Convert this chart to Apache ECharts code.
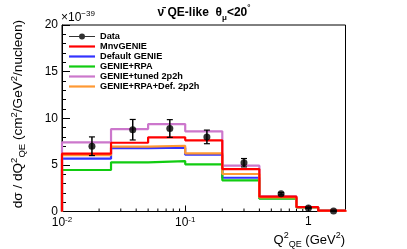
<!DOCTYPE html>
<html>
<head>
<meta charset="utf-8">
<script src="https://cdn.jsdelivr.net/npm/echarts@6/dist/echarts.min.js"></script>
<style>html,body{margin:0;padding:0;background:#fff}#c{width:407px;height:249px}</style>
</head>
<body>
<div id="c"></div>
<script>
// ---- data ----
var binEdges = [0.01, 0.025, 0.05, 0.1, 0.2, 0.4, 0.8, 1.2, 2.0];
var dataX = [0.0175, 0.0375, 0.075, 0.15, 0.3, 0.6, 1.0, 1.6];
var dataY = [7.0, 8.77, 8.9, 8.0, 5.23, 1.91, 0.37, 0.05];
var dataErr = [1.0, 1.1, 0.95, 0.73, 0.45, 0.12, 0.05, 0.02];
var mnvGenie = [6.2, 7.37, 7.95, 7.63, 4.55, 1.59, 0.48, 0.09];
var defaultGenie = [5.66, 6.8, 6.84, 6.09, 3.62, 1.42, 0.42, 0.07];
var genieRpa = [4.45, 5.27, 5.41, 5.06, 3.34, 1.37, 0.42, 0.07];
var tuned2p2h = [7.42, 8.84, 9.38, 8.6, 4.91, 1.62, 0.45, 0.08];
var rpaDef2p2h = [6.05, 6.95, 7.05, 6.24, 4.02, 1.5, 0.44, 0.08];
var yTicks = [0, 5, 10, 15, 20];
var xMinorTicks = [0.02,0.03,0.04,0.05,0.06,0.07,0.08,0.09,0.2,0.3,0.4,0.5,0.6,0.7,0.8,0.9];

function hist(vals){
  var pts = [[binEdges[0], 0]];
  for (var i = 0; i < vals.length; i++) pts.push([binEdges[i], vals[i]]);
  pts.push([binEdges[binEdges.length-1], vals[vals.length-1]]);
  pts.push([binEdges[binEdges.length-1], 0]);
  return pts;
}
function stepSeries(name, vals, color){
  return {name: name, type: 'line', step: 'end', data: hist(vals), symbol: 'none',
    lineStyle: {color: color, width: 2.2}, itemStyle: {color: color}, z: 3, animation: false};
}
var F = 'Liberation Sans';
var LINE_ICON = 'path://M0,0H26V2.2H0Z';
var chart = echarts.init(document.getElementById('c'), null, {renderer: 'canvas'});
chart.setOption({
  animation: false,
  grid: {left: 62, top: 25, right: 61.5, bottom: 37.5, show: true, borderColor: '#000', borderWidth: 1, backgroundColor: 'transparent'},
  legend: {
    orient: 'vertical', left: 64, top: 27, itemWidth: 26, itemHeight: 9, itemGap: 1, itemTextGap: 6,
    textStyle: {fontFamily: F, fontWeight: 'bold', fontSize: 9.2, color: '#000'},
    data: [
      {name: 'Data', icon: 'path://M0,4.6H26V5.4H0Z M16,5A3,3 0 1,1 10,5A3,3 0 1,1 16,5Z'},
      {name: 'MnvGENIE', icon: LINE_ICON},
      {name: 'Default GENIE', icon: LINE_ICON},
      {name: 'GENIE+RPA', icon: LINE_ICON},
      {name: 'GENIE+tuned 2p2h', icon: LINE_ICON},
      {name: 'GENIE+RPA+Def. 2p2h', icon: LINE_ICON}
    ]
  },
  xAxis: {
    type: 'log', logBase: 10, min: 0.01, max: 2,
    axisLine: {lineStyle: {color: '#000', width: 1}},
    axisTick: {inside: true, length: 6, lineStyle: {color: '#000'}},
    splitLine: {show: false},
    axisLabel: {
      fontFamily: F, fontSize: 12, color: '#000', margin: 4, showMaxLabel: false,
      formatter: function(v){
        var l = Math.log10(v), p = Math.round(l);
        if (Math.abs(l - p) > 1e-6) return '';
        if (p === 0) return '1';
        return '10{sup|' + p + '}';
      },
      rich: {sup: {fontFamily: F, fontSize: 8, verticalAlign: 'top', lineHeight: 14, color: '#000'}}
    }
  },
  yAxis: {
    type: 'value', min: 0, max: 20, interval: 5,
    axisLine: {lineStyle: {color: '#000', width: 1}},
    axisTick: {inside: true, length: 8, lineStyle: {color: '#000'}},
    minorTick: {show: true, splitNumber: 5, length: 4, lineStyle: {color: '#000'}},
    splitLine: {show: false},
    axisLabel: {fontFamily: F, fontSize: 12, color: '#000', margin: 4,
      formatter: function(v){ return yTicks.indexOf(v) >= 0 ? String(v) : ''; }}
  },
  series: [
    stepSeries('Default GENIE', defaultGenie, '#3333ff'),
    stepSeries('GENIE+RPA', genieRpa, '#11cc11'),
    stepSeries('GENIE+tuned 2p2h', tuned2p2h, '#cc77cc'),
    stepSeries('GENIE+RPA+Def. 2p2h', rpaDef2p2h, '#ff9933'),
    stepSeries('MnvGENIE', mnvGenie, '#ff0000'),
    {
      type: 'custom', name: 'minorX', silent: true, z: 2,
      data: xMinorTicks.map(function(v){ return [v, 0]; }),
      renderItem: function(params, api){
        var p = api.coord([api.value(0), 0]);
        return {type: 'line', shape: {x1: p[0], y1: p[1], x2: p[0], y2: p[1] - 3}, style: {stroke: '#000', lineWidth: 1}};
      }
    },
    {
      type: 'custom', name: 'err', silent: true, z: 5,
      data: dataX.map(function(x, i){ return [x, dataY[i], dataErr[i]]; }),
      renderItem: function(params, api){
        var x = api.value(0), y = api.value(1), e = api.value(2);
        var a = api.coord([x, y + e]), b = api.coord([x, y - e]);
        return {type: 'group', children: [
          {type: 'line', shape: {x1: a[0], y1: a[1], x2: b[0], y2: b[1]}, style: {stroke: '#000', lineWidth: 1.5}},
          {type: 'line', shape: {x1: a[0]-3, y1: a[1], x2: a[0]+3, y2: a[1]}, style: {stroke: '#000', lineWidth: 1.2}},
          {type: 'line', shape: {x1: b[0]-3, y1: b[1], x2: b[0]+3, y2: b[1]}, style: {stroke: '#000', lineWidth: 1.2}}
        ]};
      }
    },
    {
      name: 'Data', type: 'scatter', symbol: 'circle', symbolSize: 7, z: 6,
      itemStyle: {color: '#000'},
      data: dataX.map(function(x, i){ return [x, dataY[i]]; })
    }
  ],
  graphic: [
    {type: 'text', x: 204, y: 13, style: {
      text: '{b|ν̄ QE-like  θ}{sub|μ}{b|<20}{sup|°}', textAlign: 'center', textVerticalAlign: 'middle',
      rich: {
        b: {fontFamily: F, fontWeight: 'bold', fontSize: 12, lineHeight: 18, fill: '#000'},
        sub: {fontFamily: F, fontWeight: 'bold', fontSize: 8, lineHeight: 18, verticalAlign: 'bottom', fill: '#000'},
        sup: {fontFamily: F, fontWeight: 'bold', fontSize: 8, lineHeight: 18, verticalAlign: 'top', fill: '#000'}
      }}},
    {type: 'text', x: 61, y: 26, style: {
      text: '×10{sup|−39}', textAlign: 'left', textVerticalAlign: 'bottom',
      font: '12px ' + F, fill: '#000',
      rich: {sup: {fontFamily: F, fontSize: 8, lineHeight: 16, verticalAlign: 'top', fill: '#000'}}
    }},
    {type: 'text', x: 345, y: 240, style: {
      text: 'Q{s|2}{b|QE} (GeV{s|2})', textAlign: 'right', textVerticalAlign: 'middle',
      font: '13px ' + F, fill: '#000',
      rich: {
        s: {fontFamily: F, fontSize: 9, lineHeight: 18, verticalAlign: 'top', fill: '#000'},
        b: {fontFamily: F, fontSize: 9, lineHeight: 18, verticalAlign: 'bottom', fill: '#000'}
      }}},
    {type: 'text', x: 18, y: 20, rotation: Math.PI / 2, style: {
      text: 'dσ / dQ{s|2}{b|QE} (cm{s|2}/GeV{s|2}/nucleon)', textAlign: 'right', textVerticalAlign: 'middle',
      font: '13.6px ' + F, fill: '#000',
      rich: {
        s: {fontFamily: F, fontSize: 9.5, lineHeight: 18, verticalAlign: 'top', fill: '#000'},
        b: {fontFamily: F, fontSize: 9.5, lineHeight: 18, verticalAlign: 'bottom', fill: '#000'}
      }}}
  ]
});
</script>
</body>
</html>
